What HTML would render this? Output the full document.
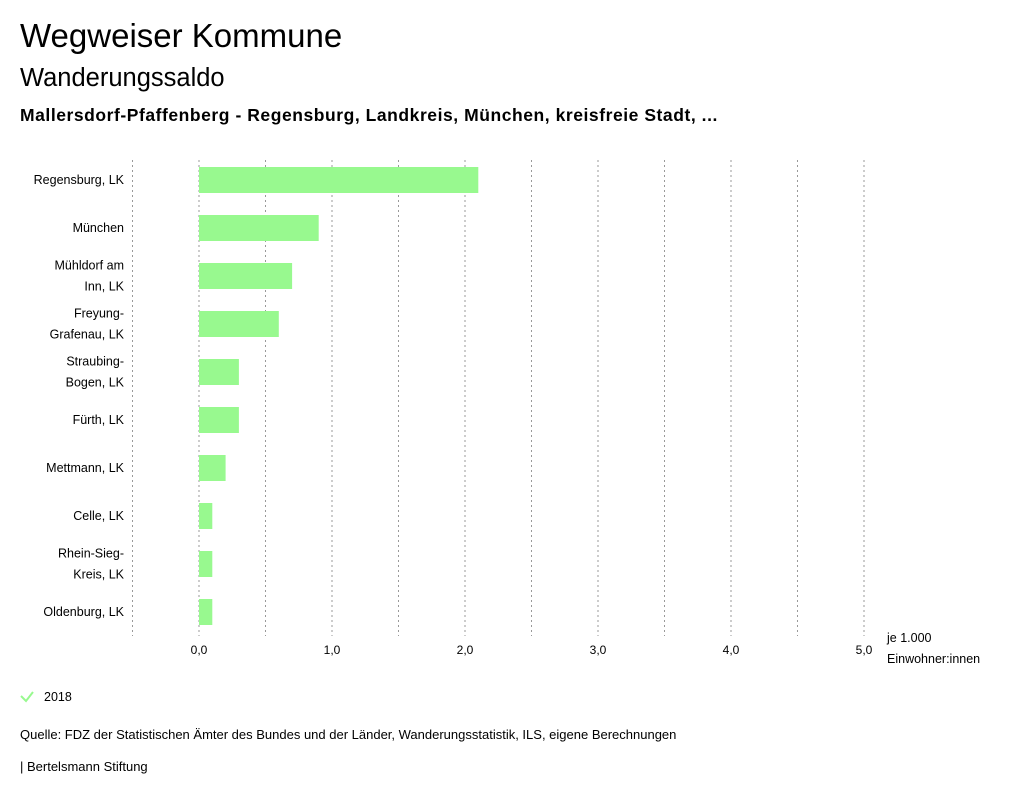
<!DOCTYPE html>
<html><head><meta charset="utf-8"><style>
body{margin:0;width:1024px;height:799px;background:#fff;font-family:"Liberation Sans",sans-serif;color:#000;overflow:hidden;position:relative}
.t{position:absolute;left:20px;white-space:nowrap}
</style></head><body>
<div class="t" style="top:17px;font-size:33px">Wegweiser Kommune</div>
<div class="t" style="top:64px;font-size:25.5px">Wanderungssaldo</div>
<div class="t" style="top:105px;font-size:17.5px;font-weight:bold;letter-spacing:0.55px">Mallersdorf-Pfaffenberg - Regensburg, Landkreis, München, kreisfreie Stadt, ...</div>
<svg id="chart" width="1024" height="799" style="position:absolute;left:0;top:0"></svg>
<div class="t" style="top:727px;font-size:13px">Quelle: FDZ der Statistischen Ämter des Bundes und der Länder, Wanderungsstatistik, ILS, eigene Berechnungen</div>
<div class="t" style="top:759px;font-size:13px">| Bertelsmann Stiftung</div>
<script>
const categories=[["Regensburg, LK"],["München"],["Mühldorf am","Inn, LK"],["Freyung-","Grafenau, LK"],["Straubing-","Bogen, LK"],["Fürth, LK"],["Mettmann, LK"],["Celle, LK"],["Rhein-Sieg-","Kreis, LK"],["Oldenburg, LK"]];
const values2018=[2.1,0.9,0.7,0.6,0.3,0.3,0.2,0.1,0.1,0.1];
const tickValues=[0,1,2,3,4,5];
const tickLabels=["0,0","1,0","2,0","3,0","4,0","5,0"];
const gridValues=[-0.5,0,0.5,1,1.5,2,2.5,3,3.5,4,4.5,5];
const NS="http://www.w3.org/2000/svg";
const svg=document.getElementById('chart');
const x=v=>199+v*133;
const y=i=>180+i*48;
function mk(t,a){const e=document.createElementNS(NS,t);for(const k in a)e.setAttribute(k,a[k]);svg.appendChild(e);return e;}
gridValues.forEach(g=>{
 const l=mk('line',{x1:x(g),x2:x(g),y1:160,y2:636,stroke:'#999','stroke-dasharray':'2,3','stroke-width':1});
 
 
});
tickValues.forEach((v,i)=>{
 const t=mk('text',{x:x(v),y:654,'font-size':12,'text-anchor':'middle','font-family':'Liberation Sans'});
 t.textContent=tickLabels[i];
 
 
});
values2018.forEach((v,i)=>{
 const r=mk('rect',{x:x(Math.min(0,v)),y:y(i)-13,width:Math.abs(x(v)-x(0)),height:26,fill:'#98f98f'});
 
 
 const lines=categories[i];
 lines.forEach((s,j)=>{
  const t=mk('text',{x:124,y:y(i)+4+(lines.length>1?(j-0.5)*21:0),'font-size':12.5,'text-anchor':'end','font-family':'Liberation Sans'});
  t.textContent=s;
  
  
 });
});
[["je 1.000",642],["Einwohner:innen",663]].forEach(a=>{
 const t=mk('text',{x:887,y:a[1],'font-size':12.5,'font-family':'Liberation Sans'});
 t.textContent=a[0];
 
 
});
const ck=mk('path',{d:'M21 696 L26 701 L33 692',fill:'none',stroke:'#98f98f','stroke-width':2});


const lt=mk('text',{x:44,y:701,'font-size':12.5,'font-family':'Liberation Sans'});
lt.textContent='2018';


</script>
</body></html>
